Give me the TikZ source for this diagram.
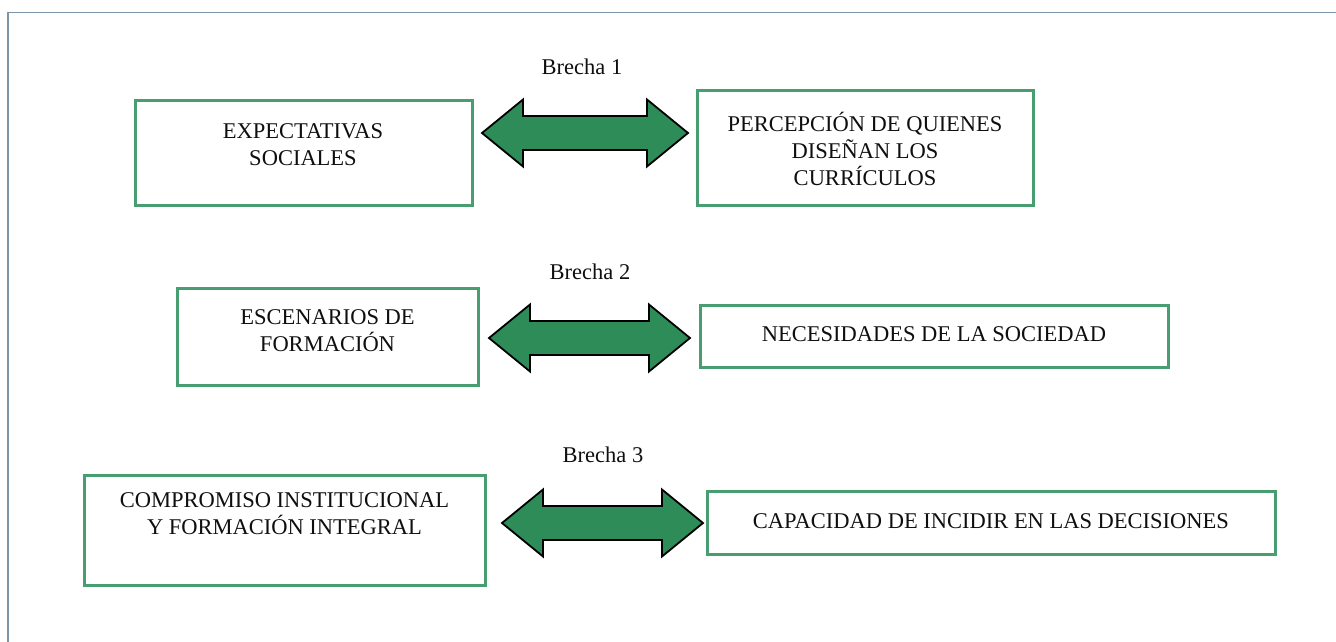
\documentclass[tikz,border=0pt]{standalone}
\usepackage{fontspec}
\setmainfont{Liberation Serif}
\definecolor{boxgreen}{RGB}{72,158,112}
\definecolor{arrowgreen}{RGB}{46,140,88}
\definecolor{framegray}{RGB}{125,148,168}
\definecolor{txt}{RGB}{15,15,15}
\newcommand{\blockarr}[3]{% left x, right x, centre y
  \draw[blockarrow] (#1,#3) -- (#1+41,#3-33.5) -- (#1+41,#3-17) -- (#2-41,#3-17) -- (#2-41,#3-33.5)
    -- (#2,#3) -- (#2-41,#3+33.5) -- (#2-41,#3+17) -- (#1+41,#3+17) -- (#1+41,#3+33.5) -- cycle;}
\begin{document}
\begin{tikzpicture}[x=1pt,y=-1pt,
  gbox/.style={draw=boxgreen, line width=3pt, inner sep=0pt, fill=white},
  boxtext/.style={align=center, inner sep=0pt, text=txt, font=\fontsize{22.5}{27}\selectfont},
  gaplabel/.style={inner sep=0pt, text=txt, font=\fontsize{22.5}{27}\selectfont},
  blockarrow/.style={draw=black, line width=1.8pt, fill=arrowgreen, line join=miter}]
\useasboundingbox (0,0) rectangle (1336,641);
\fill[white] (0,0) rectangle (1336,641);
\draw[framegray, line width=1.8pt] (8,645) -- (8,12.5) -- (1340,12.5);

% row 1
\node[gbox, minimum width=337pt, minimum height=105pt] (b1) at (303.5,152.5) {};
\node[boxtext] (t1) at (303,144.5) {EXPECTATIVAS\\SOCIALES};
\node[gbox, minimum width=336pt, minimum height=115pt] (b2) at (865,147.5) {};
\node[boxtext] (t2) at (865,148.5) {PERCEPCIÓN DE QUIENES\\DISEÑAN LOS\\CURRÍCULOS};
\node[gaplabel] (g1) at (582,67) {Brecha 1};
\blockarr{482}{688}{133}

% row 2
\node[gbox, minimum width=301pt, minimum height=97pt] (b3) at (327.5,336.5) {};
\node[boxtext] (t3) at (327.5,330.5) {ESCENARIOS DE\\FORMACIÓN};
\node[gbox, minimum width=468pt, minimum height=62pt] (b4) at (934,336) {};
\node[boxtext] (t4) at (934,334) {NECESIDADES DE LA SOCIEDAD};
\node[gaplabel] (g2) at (590,272) {Brecha 2};
\blockarr{489}{690}{338}

% row 3
\node[gbox, minimum width=401pt, minimum height=110pt] (b5) at (284.5,530) {};
\node[boxtext] (t5) at (284.5,514) {COMPROMISO INSTITUCIONAL\\Y FORMACIÓN INTEGRAL};
\node[gbox, minimum width=568pt, minimum height=63pt] (b6) at (991,522.5) {};
\node[boxtext] (t6) at (991,521) {CAPACIDAD DE INCIDIR EN LAS DECISIONES};
\node[gaplabel] (g3) at (603,455) {Brecha 3};
\blockarr{502}{703}{523}
\end{tikzpicture}
\end{document}
